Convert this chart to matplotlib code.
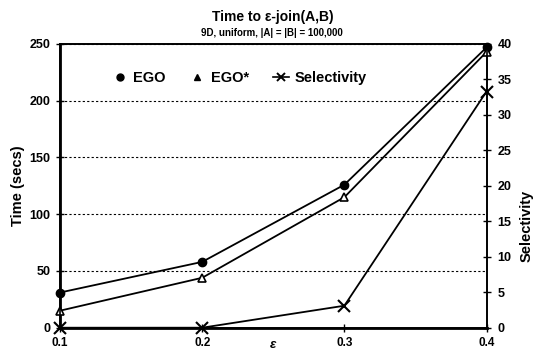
import matplotlib
matplotlib.use('Agg')
import matplotlib.pyplot as plt
from matplotlib.lines import Line2D

plt.rcParams['font.family'] = ['Liberation Sans', 'DejaVu Sans']
plt.rcParams['font.weight'] = 'bold'

# epsilon values and measured results
eps = [0.1, 0.2, 0.3, 0.4]
ego_time = [31, 58, 126, 247]
ego_star_time = [15, 44, 115, 243]
selectivity = [0.0, 0.0, 3.1, 33.3]

time_ticks = [0, 50, 100, 150, 200, 250]
sel_ticks = [0, 5, 10, 15, 20, 25, 30, 35, 40]

fig = plt.figure(figsize=(5.34, 3.52), dpi=100)
ax = fig.add_axes([0.1124, 0.069, 0.7987, 0.806])
ax2 = ax.twinx()

# time curves on left axis
ax.plot(eps, ego_time, color='black', lw=1.3, marker='o', ms=6,
        mfc='black', mec='black', clip_on=False, zorder=5)
ax.plot(eps, ego_star_time, color='black', lw=1.3, marker='^', ms=6,
        mfc='white', mec='black', mew=1.2, clip_on=False, zorder=5)

# selectivity on right axis
ax2.plot(eps, selectivity, color='black', lw=1.3, marker='x', ms=8,
         mew=1.5, clip_on=False, zorder=5)

ax.set_xlim(0.1, 0.4)
ax.set_ylim(0, 250)
ax2.set_ylim(0, 40)
ax.set_xticks(eps)
ax.set_xticklabels(['0.1', '0.2', '0.3', '0.4'])
ax.set_yticks(time_ticks)
ax2.set_yticks(sel_ticks)

ax.grid(axis='y', linestyle=(0, (2, 2)), linewidth=0.8, color='black')
ax.set_axisbelow(True)

for a in (ax, ax2):
    a.tick_params(direction='inout', length=6, width=1, labelsize=9, colors='black')
    for s in a.spines.values():
        s.set_linewidth(1.2)
ax.spines['left'].set_linewidth(2)
ax.spines['bottom'].set_linewidth(2)
ax.tick_params(axis='x', pad=4, labelsize=8.5)
ax.tick_params(axis='y', pad=4)
ax2.tick_params(axis='y', pad=5)

ax.set_ylabel('Time (secs)', fontsize=10.5, fontweight='bold')
ax.yaxis.set_label_coords(-0.083, 0.5)
ax2.set_ylabel('Selectivity', fontsize=10.5, fontweight='bold', rotation=90)
ax2.yaxis.set_label_coords(1.078, 0.36)
ax.text(0.5, -0.062, 'ε', transform=ax.transAxes, ha='center', va='center',
        fontsize=9.5, fontstyle='italic')

fig.text(0.51, 0.952, 'Time to ε-join(A,B)', ha='center', va='center',
         fontsize=10, fontweight='bold')
fig.text(0.51, 0.906, '9D, uniform, |A| = |B| = 100,000', ha='center', va='center',
         fontsize=7, fontweight='bold')

handles = [
    Line2D([], [], color='black', marker='o', ls='none', ms=5),
    Line2D([], [], color='black', marker='^', ls='none', ms=5),
    Line2D([], [], color='black', marker='x', ls='-', lw=1.2, ms=6, mew=1.4),
]
ax.legend(handles, ['EGO', 'EGO*', 'Selectivity'], ncol=3, frameon=False,
          loc='center left', bbox_to_anchor=(0.09, 0.88), fontsize=10.5,
          handlelength=1.1, handletextpad=0.4, columnspacing=1.6)

fig.savefig('out.png', dpi=100)
